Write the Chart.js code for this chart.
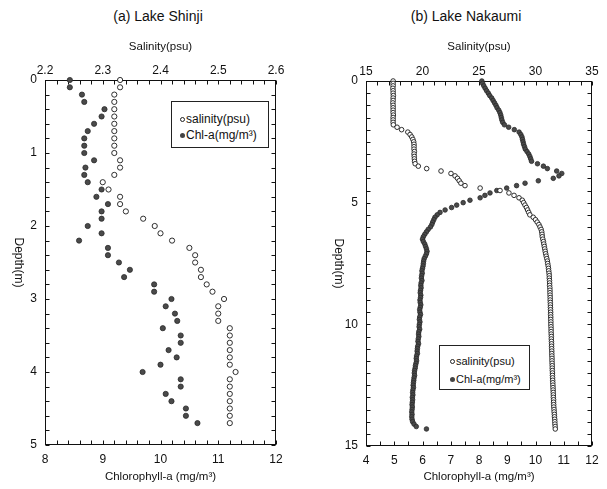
<!DOCTYPE html>
<html>
<head>
<meta charset="utf-8">
<script src="https://cdn.jsdelivr.net/npm/chart.js@4.4.1/dist/chart.umd.min.js"></script>
<style>
  body { margin: 0; background: #fff; width: 607px; height: 489px; overflow: hidden; position: relative;
         font-family: "Liberation Sans", Arial, sans-serif; color: #111; }
  canvas { position: absolute; top: 0; }
  #shinji { left: 0; }
  #nakaumi { left: 300px; }
  .ptitle { position: absolute; top: 8px; font-size: 14px; transform: translateX(-50%); white-space: nowrap; }
  .legend { position: absolute; border: 1px solid #222; background: #fff; box-sizing: border-box; white-space: nowrap; }
  .legend div { display: flex; align-items: center; }
  .mk { display: inline-block; box-sizing: border-box; width: 5px; height: 5px; border-radius: 50%; margin-right: 1px; }
  .mk.open { border: 1px solid #222; background: #fff; }
  .mk.fill { background: #444; }
</style>
</head>
<body>
<div class="ptitle" style="left:158px">(a) Lake Shinji</div>
<div class="ptitle" style="left:466px">(b) Lake Nakaumi</div>
<canvas id="shinji" width="300" height="489"></canvas>
<canvas id="nakaumi" width="307" height="489"></canvas>
<div class="legend" id="legShinji" style="left:171px; top:101px; width:98px; height:47px; font-size:12px; padding:9px 0 0 8px; line-height:16px;"></div>
<div class="legend" id="legNakaumi" style="left:439px; top:345px; width:91px; height:45px; font-size:11px; padding:6px 0 0 10px; line-height:18px;"></div>
<script>
// ---- Lake Shinji: profile every 0.1 m ----
const depthA = [
  0, 0.1, 0.2, 0.3, 0.4, 0.5, 0.6, 0.7, 0.8, 0.9,
  1, 1.1, 1.2, 1.3, 1.4, 1.5, 1.6, 1.7, 1.8, 1.9,
  2, 2.1, 2.2, 2.3, 2.4, 2.5, 2.6, 2.7, 2.8, 2.9,
  3, 3.1, 3.2, 3.3, 3.4, 3.5, 3.6, 3.7, 3.8, 3.9,
  4, 4.1, 4.2, 4.3, 4.4, 4.5, 4.6, 4.7
];
const salinityA = [
  2.33, 2.33, 2.32, 2.32, 2.32, 2.32, 2.32, 2.32, 2.32, 2.32,
  2.32, 2.33, 2.33, 2.32, 2.30, 2.31, 2.33, 2.33, 2.34, 2.37,
  2.39, 2.40, 2.42, 2.45, 2.46, 2.46, 2.47, 2.47, 2.48, 2.49,
  2.51, 2.50, 2.50, 2.50, 2.52, 2.52, 2.52, 2.52, 2.52, 2.52,
  2.53, 2.52, 2.52, 2.52, 2.52, 2.52, 2.52, 2.52
];
const chlA = [
  8.43, 8.43, 8.64, 8.68, 9.03, 8.98, 8.85, 8.74, 8.68, 8.68,
  8.68, 8.85, 8.70, 8.68, 8.74, 8.98, 8.89, 9.09, 8.98, 8.98,
  8.74, 8.98, 8.59, 9.09, 9.09, 9.28, 9.47, 9.37, 9.89, 9.89,
  10.19, 10.09, 10.25, 10.29, 10.04, 10.35, 10.35, 10.14, 10.28, 10.00,
  9.69, 10.35, 10.35, 10.09, 10.19, 10.44, 10.44, 10.64
];

// ---- Lake Nakaumi: profile every 0.1 m ----
const depthB = [
  0, 0.1, 0.2, 0.3, 0.4, 0.5, 0.6, 0.7, 0.8, 0.9,
  1, 1.1, 1.2, 1.3, 1.4, 1.5, 1.6, 1.7, 1.8, 1.9,
  2, 2.1, 2.2, 2.3, 2.4, 2.5, 2.6, 2.7, 2.8, 2.9,
  3, 3.1, 3.2, 3.3, 3.4, 3.5, 3.6, 3.7, 3.8, 3.9,
  4, 4.1, 4.2, 4.3, 4.4, 4.5, 4.6, 4.7, 4.8, 4.9,
  5, 5.1, 5.2, 5.3, 5.4, 5.5, 5.6, 5.7, 5.8, 5.9,
  6, 6.1, 6.2, 6.3, 6.4, 6.5, 6.6, 6.7, 6.8, 6.9,
  7, 7.1, 7.2, 7.3, 7.4, 7.5, 7.6, 7.7, 7.8, 7.9,
  8, 8.1, 8.2, 8.3, 8.4, 8.5, 8.6, 8.7, 8.8, 8.9,
  9, 9.1, 9.2, 9.3, 9.4, 9.5, 9.6, 9.7, 9.8, 9.9,
  10, 10.1, 10.2, 10.3, 10.4, 10.5, 10.6, 10.7, 10.8, 10.9,
  11, 11.1, 11.2, 11.3, 11.4, 11.5, 11.6, 11.7, 11.8, 11.9,
  12, 12.1, 12.2, 12.3, 12.4, 12.5, 12.6, 12.7, 12.8, 12.9,
  13, 13.1, 13.2, 13.3, 13.4, 13.5, 13.6, 13.7, 13.8, 13.9,
  14, 14.1, 14.2, 14.3
];
const salinityB = [
  17.40, 17.40, 17.40, 17.38, 17.40, 17.40, 17.42, 17.40, 17.40, 17.38,
  17.40, 17.40, 17.40, 17.40, 17.42, 17.40, 17.40, 17.40, 17.42, 17.75,
  18.15, 18.70, 18.90, 19.05, 19.15, 19.22, 19.25, 19.25, 19.25, 19.28,
  19.25, 19.27, 19.28, 19.30, 19.35, 19.63, 20.37, 21.64, 22.52, 22.88,
  23.10, 23.25, 23.40, 23.76, 25.10, 26.86, 27.65, 28.10, 28.54, 28.83,
  28.95, 29.07, 29.20, 29.30, 29.40, 29.50, 29.80, 30.00, 30.15, 30.30,
  30.40, 30.50, 30.55, 30.58, 30.60, 30.65, 30.70, 30.74, 30.78, 30.82,
  30.86, 30.90, 30.95, 31.00, 31.05, 31.08, 31.12, 31.15, 31.17, 31.20,
  31.22, 31.22, 31.24, 31.25, 31.25, 31.27, 31.28, 31.28, 31.29, 31.30,
  31.30, 31.31, 31.32, 31.32, 31.33, 31.34, 31.34, 31.35, 31.35, 31.36,
  31.36, 31.37, 31.38, 31.38, 31.39, 31.40, 31.40, 31.41, 31.42, 31.42,
  31.43, 31.44, 31.44, 31.45, 31.46, 31.46, 31.47, 31.48, 31.48, 31.49,
  31.50, 31.50, 31.51, 31.52, 31.53, 31.54, 31.55, 31.56, 31.57, 31.58,
  31.58, 31.60, 31.60, 31.61, 31.62, 31.64, 31.65, 31.67, 31.68, 31.70,
  31.71, 31.72, 31.74, 31.75
];
const chlB = [
  8.10, 8.13, 8.17, 8.22, 8.27, 8.33, 8.38, 8.45, 8.50, 8.55,
  8.60, 8.64, 8.70, 8.74, 8.77, 8.79, 8.81, 8.84, 8.90, 9.05,
  9.25, 9.42, 9.48, 9.52, 9.54, 9.56, 9.58, 9.61, 9.64, 9.70,
  9.76, 9.80, 9.83, 9.86, 10.07, 10.28, 10.42, 10.75, 10.93, 10.83,
  10.63, 10.10, 9.63, 9.33, 8.98, 8.63, 8.39, 8.21, 8.04, 7.68,
  7.44, 7.21, 7.03, 6.80, 6.62, 6.52, 6.44, 6.40, 6.36, 6.33,
  6.28, 6.20, 6.14, 6.08, 6.03, 6.00, 6.03, 6.08, 6.11, 6.14,
  6.16, 6.14, 6.10, 6.06, 6.04, 6.03, 6.02, 6.00, 5.98, 5.99,
  5.97, 5.96, 5.98, 5.95, 5.94, 5.95, 5.93, 5.92, 5.94, 5.93,
  5.91, 5.92, 5.94, 5.92, 5.90, 5.91, 5.93, 5.90, 5.89, 5.91,
  5.89, 5.88, 5.90, 5.87, 5.86, 5.87, 5.85, 5.84, 5.86, 5.83,
  5.82, 5.81, 5.82, 5.79, 5.78, 5.79, 5.77, 5.75, 5.74, 5.72,
  5.71, 5.72, 5.70, 5.69, 5.68, 5.67, 5.68, 5.66, 5.65, 5.66,
  5.64, 5.65, 5.64, 5.63, 5.64, 5.63, 5.62, 5.63, 5.62, 5.63,
  5.65, 5.70, 5.78, 6.14
];

// tick labels
const salTicksA = [2.2, 2.3, 2.4, 2.5, 2.6];
const chlTicksA = [8, 9, 10, 11, 12];
const depthTicksA = [0, 1, 2, 3, 4, 5];
const salTicksB = [15, 20, 25, 30, 35];
const chlTicksB = [4, 5, 6, 7, 8, 9, 10, 11, 12];
const depthTicksB = [0, 5, 10, 15];

const FONT = '"Liberation Sans", Arial, sans-serif';
const INK = '#111';

// frame round the plot, inward tick marks on all four sides, rotated depth title
const frame = {
  id: 'frame',
  beforeDatasetsDraw(chart, args, o) {
    const { ctx, chartArea: a, scales } = chart;
    const L = Math.round(a.left) + 0.5, R = Math.round(a.right) - 0.5;
    const T = Math.round(a.top) + 0.5, B = Math.round(a.bottom) - 0.5;
    ctx.save();
    ctx.strokeStyle = INK;
    ctx.lineWidth = 1;
    ctx.strokeRect(L, T, R - L, B - T);

    const marks = (scale, step, fn) => {
      const n = Math.round((scale.max - scale.min) / step);
      for (let i = 0; i <= n; i++) fn(Math.round(scale.getPixelForValue(scale.min + i * step)) + 0.5);
    };
    ctx.beginPath();
    marks(scales.x, o.xStep, px => { ctx.moveTo(px, B); ctx.lineTo(px, B - o.len); });
    marks(scales.x2, o.x2Step, px => { ctx.moveTo(px, T); ctx.lineTo(px, T + o.len); });
    marks(scales.y, o.yStep, py => {
      ctx.moveTo(L, py); ctx.lineTo(L + o.len, py);
      ctx.moveTo(R, py); ctx.lineTo(R - o.len, py);
    });
    ctx.stroke();

    ctx.fillStyle = INK;
    ctx.font = '12px ' + FONT;
    ctx.translate(o.titleX, (a.top + a.bottom) / 2);
    ctx.rotate(Math.PI / 2);
    ctx.textAlign = 'center';
    ctx.textBaseline = 'middle';
    ctx.fillText(o.title, 0, 0);
    ctx.restore();
  }
};

function axis(p) {
  return {
    type: 'linear',
    position: p.position,
    min: p.values[0],
    max: p.values[p.values.length - 1],
    reverse: !!p.reverse,
    grid: { display: false, drawTicks: false },
    border: { display: false },
    afterBuildTicks: s => { s.ticks = p.values.map(v => ({ value: v })); },
    afterFit: s => { if (p.position === 'left') s.width = p.size; else s.height = p.size; },
    ticks: {
      autoSkip: false, maxRotation: 0, padding: p.pad, color: INK,
      font: { family: FONT, size: 12 },
      callback: v => String(v)
    },
    title: p.title ? {
      display: true, text: p.title, color: INK,
      font: { family: FONT, size: 11.5 },
      padding: p.titlePad
    } : { display: false }
  };
}

function panel(id, p) {
  const pts = xs => p.depth.map((d, i) => ({ x: xs[i], y: d }));
  return new Chart(document.getElementById(id), {
    type: 'scatter',
    data: {
      datasets: [
        {
          label: 'salinity(psu)', data: pts(p.sal), xAxisID: 'x2',
          pointStyle: 'circle', pointRadius: p.r, backgroundColor: '#fff',
          borderColor: '#1a1a1a', borderWidth: 0.9, clip: false
        },
        {
          label: 'Chl-a(mg/m³)', data: pts(p.chl), xAxisID: 'x',
          pointStyle: 'circle', pointRadius: p.r, backgroundColor: '#4a4a4a',
          borderColor: '#2a2a2a', borderWidth: 0.8, clip: false
        }
      ]
    },
    options: {
      responsive: false,
      animation: false,
      events: [],
      layout: { padding: { left: 0, right: p.right, top: 0, bottom: 0 } },
      plugins: {
        legend: { display: false },
        tooltip: { enabled: false },
        frame: p.frame
      },
      scales: {
        x: axis({ position: 'bottom', values: p.chlTicks, size: p.bottomH, pad: 7,
                  title: 'Chlorophyll-a (mg/m³)', titlePad: { bottom: 5 } }),
        x2: axis({ position: 'top', values: p.salTicks, size: p.topH, pad: 2,
                   title: 'Salinity(psu)', titlePad: { top: 40 } }),
        y: axis({ position: 'left', values: p.depthTicks, size: p.leftW, pad: 8, reverse: true })
      }
    },
    plugins: [frame]
  });
}

const shinji = panel('shinji', {
  depth: depthA, sal: salinityA, chl: chlA, r: 2.6,
  salTicks: salTicksA, chlTicks: chlTicksA, depthTicks: depthTicksA,
  right: 24, leftW: 45, topH: 80, bottomH: 44,
  frame: { xStep: 0.2, x2Step: 0.02, yStep: 0.2, len: 4, title: 'Depth(m)', titleX: 18 }
});

const nakaumi = panel('nakaumi', {
  depth: depthB, sal: salinityB, chl: chlB, r: 2.3,
  salTicks: salTicksB, chlTicks: chlTicksB, depthTicks: depthTicksB,
  right: 15, leftW: 66, topH: 81, bottomH: 43,
  frame: { xStep: 0.5, x2Step: 1, yStep: 0.5, len: 4, title: 'Depth(m)', titleX: 38 }
});

// legend boxes filled from the dataset labels
function fillLegend(boxId, chart) {
  const box = document.getElementById(boxId);
  chart.data.datasets.forEach((ds, i) => {
    const row = document.createElement('div');
    const mk = document.createElement('span');
    mk.className = 'mk ' + (i === 0 ? 'open' : 'fill');
    row.appendChild(mk);
    row.appendChild(document.createTextNode(ds.label));
    box.appendChild(row);
  });
}
fillLegend('legShinji', shinji);
fillLegend('legNakaumi', nakaumi);
</script>
</body>
</html>
